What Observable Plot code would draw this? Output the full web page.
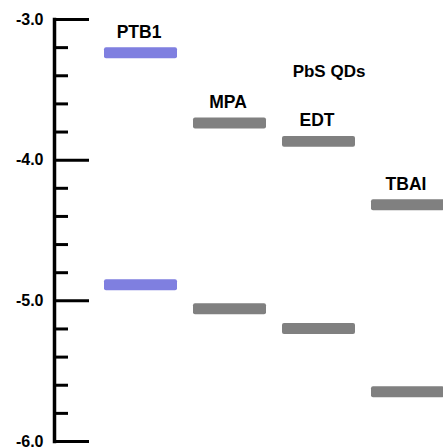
<!DOCTYPE html>
<html>
<head>
<meta charset="utf-8">
<script src="https://cdn.jsdelivr.net/npm/d3@7"></script>
<script src="https://cdn.jsdelivr.net/npm/@observablehq/plot@0.6"></script>
<style>
  html, body { margin: 0; padding: 0; background: #fff; }
  svg { font-family: "Liberation Sans", Arial, sans-serif; }
</style>
</head>
<body>
<div id="chart"></div>
<script>
const materials = ["PTB1", "MPA", "EDT", "TBAI"];
const upperLevel = [-3.24, -3.74, -3.87, -4.32];
const lowerLevel = [-4.89, -5.06, -5.20, -5.65];
const barColors = ["#7f7fe0", "#808080", "#808080", "#808080"];
const majorTicks = [-3, -4, -5, -6];
const minorTicks = [-3.2, -3.4, -3.6, -3.8, -4.2, -4.4, -4.6, -4.8, -5.2, -5.4, -5.6, -5.8];
const groupLabel = "PbS QDs";
const groupLabelAt = {material: "EDT", level: -3.37};

const levels = materials.flatMap((m, i) => [
  {material: m, level: upperLevel[i], color: barColors[i]},
  {material: m, level: lowerLevel[i], color: barColors[i]}
]);
const tops = materials.map((m, i) => ({material: m, level: upperLevel[i]}));

const half = 0.039;

const chart = Plot.plot({
  width: 443,
  height: 448,
  marginLeft: 54,
  marginTop: 19,
  marginBottom: 7,
  marginRight: 0,
  style: {fontFamily: "'Liberation Sans', Arial, sans-serif", background: "#fff"},
  x: {type: "band", domain: materials, range: [103, 444], paddingInner: 0.1825, paddingOuter: 0, axis: null},
  y: {domain: [-6, -3], axis: null},
  marks: [
    Plot.frame({anchor: "left", stroke: "#000", strokeWidth: 3.5}),
    Plot.axisY(majorTicks, {anchor: "left", label: null, tickSize: -35, tickPadding: 46, strokeWidth: 3,
      tickFormat: d => d.toFixed(1), fontSize: 16, fontWeight: "bold", fill: "#000", stroke: "#000"}),
    Plot.axisY(minorTicks, {anchor: "left", label: null, tickSize: -14, tickFormat: () => "", strokeWidth: 3, stroke: "#000"}),
    Plot.barY(levels, {x: "material", y1: d => d.level - half, y2: d => d.level + half, fill: "color", rx: 2}),
    Plot.text(tops, {x: "material", y: "level", text: "material", dy: -21, dx: -2,
      fontSize: 17.5, fontWeight: "bold", fill: "#000"}),
    Plot.text([groupLabel], {x: () => groupLabelAt.material, y: () => groupLabelAt.level, text: d => d, dx: 10,
      fontSize: 17, fontWeight: "bold", fill: "#000"})
  ]
});
document.getElementById("chart").appendChild(chart);
</script>
</body>
</html>
